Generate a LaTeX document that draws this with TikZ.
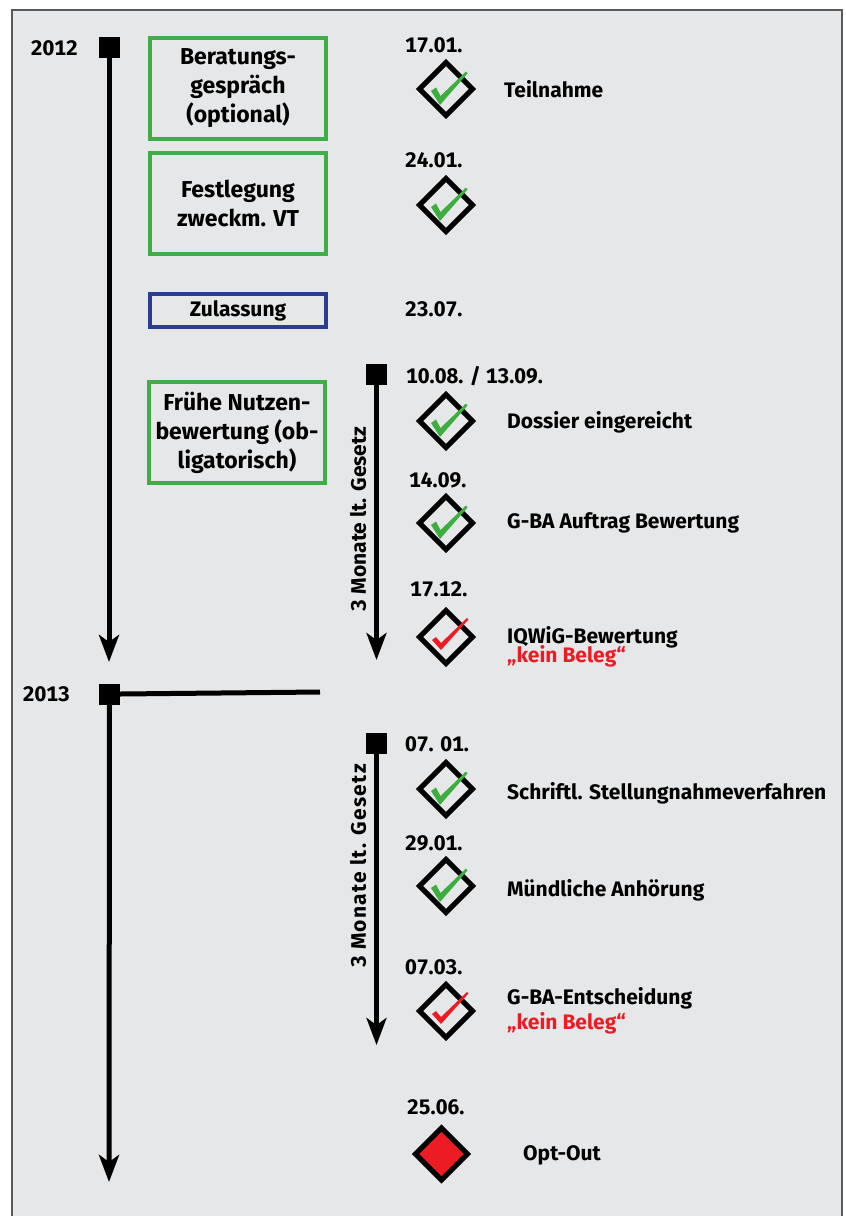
\documentclass[tikz,border=0pt]{standalone}
\usepackage{fontspec}
\setmainfont{Fira Sans}[Numbers=Monospaced]
\newfontfamily\spacedsans{Fira Sans}[Numbers=Monospaced, LetterSpace=6]
\usetikzlibrary{arrows.meta}
\definecolor{bg}{HTML}{E6E7E8}
\definecolor{frame}{HTML}{5A5A5A}
\definecolor{boxgreen}{HTML}{40AD49}
\definecolor{boxblue}{HTML}{2A3D8F}
\definecolor{okgreen}{HTML}{3CAE3F}
\definecolor{alert}{HTML}{ED1C24}
\tikzset{
  every node/.style={font=\bfseries\fontsize{21}{25}\selectfont},
  phase/.style={draw=boxgreen, line width=4pt, minimum width=176pt, minimum height=101pt,
    inner sep=0pt, align=center, font=\bfseries\fontsize{23}{29}\selectfont},
  marker/.style={fill=black, minimum size=21pt, inner sep=0pt},
  timeline/.style={line width=5pt, -{Stealth[length=27pt,width=20pt,inset=7pt]}},
  period/.style={line width=4.5pt, -{Stealth[length=27pt,width=20pt,inset=7pt]}},
  label/.style={anchor=base west, inner sep=0pt},
  date/.style={anchor=base west, inner sep=0pt},
  milestone/.style={line width=5pt, miter limit=10},
  check/.pic={\fill[pic actions] (-15,2) -- (-10,-1.5) -- (-5.5,7) -- (20,-17.5) -- (21.5,-15.5) -- (-6,16) -- cycle;},
  redcheck/.pic={\fill[pic actions] (-14,3) -- (-10,0) -- (-5,6) -- (21,-19) -- (22.5,-17.5) -- (-5,13) -- cycle;},
}
\begin{document}
\begin{tikzpicture}[x=1pt, y=-1pt]
\useasboundingbox (0,0) rectangle (846,1216);
% panel
\fill[bg] (12,10) rectangle (842,1230);
\draw[frame, line width=2pt] (12,1230) -- (12,10) -- (842,10) -- (842,1230);

% years and the main time axis
\node[marker] (y12) at (109,47) {};
\node[marker] (y13) at (109.5,694) {};
\node[anchor=base east, inner sep=0pt] (t12) at (78,55) {2012};
\node[anchor=base east, inner sep=0pt] (t13) at (70,701) {2013};
\coordinate (end12) at (109,662);
\coordinate (end13) at (109,1182);
\coordinate (cut13) at (320,692);
\draw[timeline] (y12.south) -- (end12);
\draw[timeline] (y13.south) -- (end13);
\draw[line width=5pt] (y13.east) -- (cut13);

% procedure boxes
\node[phase] (b1) at (238,88.5) {Beratungs-\\gespräch\\(optional)};
\node[phase] (b2) at (238,203.5) {Festlegung\\zweckm. VT};
\node[phase, draw=boxblue, minimum height=33pt, font=\bfseries\fontsize{21}{25}\selectfont] (b3) at (238,310.5) {Zulassung};
\node[phase] (b4) at (237,432.5) {Frühe Nutzen-\\bewertung (ob-\\ligatorisch)};

% three-month periods
\node[marker] (p1) at (376.5,374.5) {};
\node[marker] (p2) at (376.5,743) {};
\coordinate (pe1) at (376.5,660);
\coordinate (pe2) at (376.5,1045);
\draw[period] (p1.south) -- (pe1);
\draw[period] (p2.south) -- (pe2);
\node[rotate=90, inner sep=0pt] (g1) at (358,519) {3 Monate lt. Gesetz};
\node[rotate=90, inner sep=0pt, font=\spacedsans\bfseries\fontsize{21}{25}\selectfont] (g2) at (358,866) {3 Monate lt. Gesetz};

% dates
\node[date] (d1) at (405,52) {17.01.};
\node[date] (d2) at (405,167) {24.01.};
\node[date] (d3) at (405,316) {23.07.};
\node[date] (d4) at (406,383) {10.08. / 13.09.};
\node[date] (d5) at (409,487) {14.09.};
\node[date] (d6) at (410,596) {17.12.};
\node[date] (d7) at (405,751) {07. 01.};
\node[date] (d8) at (405,850) {29.01.};
\node[date] (d9) at (405,974) {07.03.};
\node[date] (d10) at (407,1114) {25.06.};

% milestones
\foreach \n/\yy in {m1/89, m2/205, m4/421, m5/523, m6/637, m7/789, m8/886, m9/1011}{
  \coordinate (\n) at (446,\yy);
  \draw[milestone] ([yshift=26.5pt]\n) -- ([xshift=26.5pt]\n) -- ([yshift=-26.5pt]\n) -- ([xshift=-26.5pt]\n) -- cycle;
}
\foreach \n in {m1,m2,m4,m5,m7,m8}{ \pic[fill=okgreen] at (\n) {check}; }
\foreach \n in {m6,m9}{ \pic[fill=alert] at (\n) {redcheck}; }
\coordinate (m10) at (441.5,1154);
\draw[milestone, fill=alert] ([yshift=26pt]m10) -- ([xshift=26pt]m10) -- ([yshift=-26pt]m10) -- ([xshift=-26pt]m10) -- cycle;

% milestone labels
\node[label] (l1) at (504,97) {Teilnahme};
\node[label] (l4) at (507,428) {Dossier eingereicht};
\node[label] (l5) at (507,528) {G-BA Auftrag Bewertung};
\node[label] (l6) at (507,643) {IQWiG-Bewertung};
\node[label, text=alert] (l6b) at (507,662) {„kein Beleg“};
\node[label] (l7) at (507,799) {Schriftl. Stellungnahmeverfahren};
\node[label] (l8) at (507,896) {Mündliche Anhörung};
\node[label] (l9) at (507,1004) {G-BA-Entscheidung};
\node[label, text=alert] (l9b) at (507,1029) {„kein Beleg“};
\node[label] (l10) at (523,1160) {Opt-Out};
\end{tikzpicture}
\end{document}
